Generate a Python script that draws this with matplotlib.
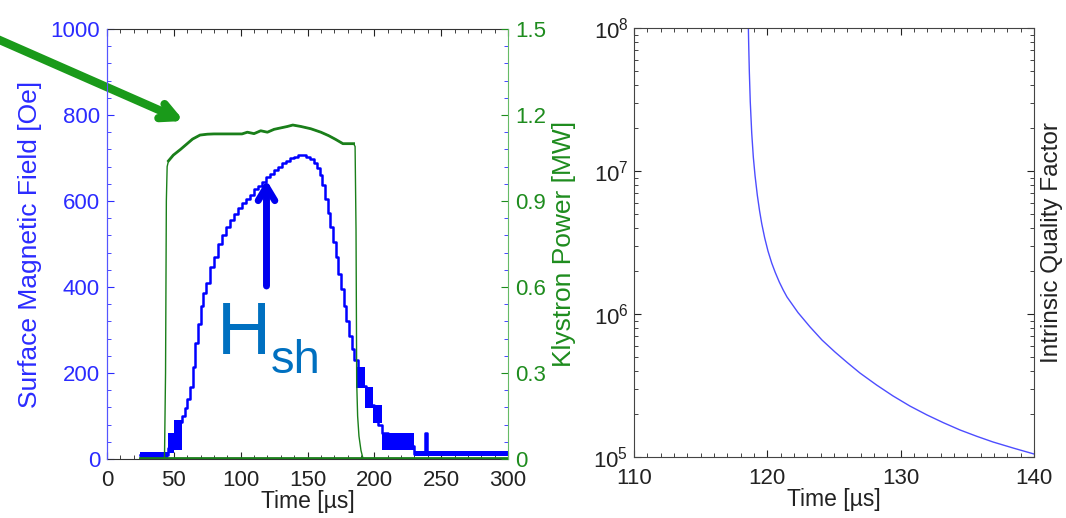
import matplotlib
matplotlib.use("Agg")
import matplotlib.pyplot as plt
from matplotlib.ticker import MultipleLocator, LogLocator, NullFormatter

plt.rcParams['font.family'] = ['Liberation Sans', 'DejaVu Sans']
plt.rcParams['mathtext.fontset'] = 'custom'
plt.rcParams['mathtext.rm'] = 'Liberation Sans'
plt.rcParams['mathtext.it'] = 'Liberation Sans:italic'

# ---------------- data ----------------
# Surface magnetic field (staircase trace), time in us, field in Oe
h_time = [25, 46, 48, 50, 52, 54, 56, 58, 60, 62, 64, 66, 68, 70, 72, 74, 77, 80,
          83, 86, 89, 92, 95, 98, 101, 104, 107, 110, 113, 116, 119, 122, 125, 128,
          131, 134, 137, 140, 143, 146, 149, 152, 155, 157, 159, 161, 163, 165,
          167, 169, 171, 173, 175, 177, 179, 181, 183, 185, 188, 191, 194, 197,
          200, 203, 206, 210, 215, 220, 225, 230, 238, 239.5, 300]
h_field = [10, 25, 45, 37, 60, 85, 100, 118, 140, 167, 215, 270, 315, 355, 385, 410, 447, 470,
           500, 520, 540, 555, 570, 583, 595, 605, 615, 628, 636, 645, 656, 662, 672, 680,
           688, 694, 700, 703, 707, 706, 703, 697, 688, 676, 660, 638, 605, 572,
           540, 505, 470, 430, 395, 355, 320, 285, 255, 230, 200, 170, 150, 125,
           100, 80, 60, 45, 35, 40, 30, 12, 60, 12, 12]
# noisy parts of the field trace: (start, end, low, high)
h_bands = [(25, 46, 3, 17), (46, 50, 15, 60), (50, 56, 20, 90),
           (186, 193, 165, 215), (193, 199, 118, 168), (199, 206, 84, 125),
           (206, 230, 20, 60), (230, 300, 7, 18)]

# Klystron power, MW
p_time = [25, 43, 43.8, 44.4, 45, 46, 49.6, 55, 60, 64, 69.6, 75, 80, 90, 101, 105,
          110, 115, 120, 125, 130, 135, 139, 145, 152.5, 160, 165.8, 171, 176.5,
          184.5, 185.6, 186.3, 186.8, 187.5, 188.5, 190, 191.6, 300]
p_power = [0.0, 0.0, 0.3, 0.9, 1.02, 1.04, 1.06, 1.08, 1.10, 1.116, 1.13, 1.133, 1.134,
           1.134, 1.134, 1.14, 1.135, 1.145, 1.14, 1.15, 1.155, 1.16, 1.165, 1.16, 1.152,
           1.14, 1.128, 1.115, 1.10, 1.10, 1.09, 0.8, 0.27, 0.15, 0.08, 0.03, 0.0, 0.0]

# Intrinsic quality factor (time in us, log10 of Q)
q_time = [118.57, 118.60, 118.65, 118.72, 118.83, 118.95, 119.08, 119.25, 119.42,
          119.58, 119.80, 120.05, 120.33, 120.60, 120.90, 121.20, 121.475, 122.30,
          123.20, 124.10, 125.075, 126.00, 126.95, 128.20, 129.425, 130.70, 131.975,
          133.20, 134.45, 135.70, 136.925, 138.50, 140.00]
q_log10 = [8.04, 7.894, 7.694, 7.484, 7.264, 7.096, 6.966, 6.83, 6.72,
           6.632, 6.533, 6.44, 6.356, 6.289, 6.223, 6.166, 6.119, 6.01,
           5.91, 5.818, 5.734, 5.66, 5.587, 5.503, 5.427, 5.356, 5.294,
           5.24, 5.189, 5.145, 5.105, 5.061, 5.021]
q_value = [10 ** v for v in q_log10]

left_xticks = [0, 50, 100, 150, 200, 250, 300]
left_yticks = [0, 200, 400, 600, 800, 1000]
right_yticks = [0, 0.3, 0.6, 0.9, 1.2, 1.5]
right_yticklabels = ['0', '0.3', '0.6', '0.9', '1.2', '1.5']
q_xticks = [110, 120, 130, 140]

BLUE = '#0000ff'
LBLUE = '#2b2bff'
GREEN = '#1a7f1a'
LGREEN = '#1e8c1e'
HSH = '#0070c0'
TICK_FS = 16
XLAB_FS = 16.5
YLAB_FS = 19

fig = plt.figure(figsize=(10.66, 5.18), dpi=100)

# ---------------- left panel ----------------
ax1 = fig.add_axes([107/1066, 59/518, 401/1066, 430/518])
ax2 = ax1.twinx()

for (t0, t1, lo, hi) in h_bands:
    ax1.fill_between([t0, t1], [lo, lo], [hi, hi], color=BLUE, lw=0, zorder=2)
ax1.plot(h_time, h_field, drawstyle='steps-post', color=BLUE, lw=1.8, zorder=3)

ax2.plot(p_time, p_power, color=GREEN, lw=1.0)
ax2.plot(p_time[5:30], p_power[5:30], color=GREEN, lw=2.0)
ax2.plot([25, 300], [0.004, 0.004], color=GREEN, lw=2.0)

ax1.set_xlim(0, 300)
ax1.set_ylim(0, 1000)
ax2.set_ylim(0, 1.5)
ax1.set_xticks(left_xticks)
ax1.set_yticks(left_yticks)
ax1.xaxis.set_minor_locator(MultipleLocator(10))
ax1.yaxis.set_minor_locator(MultipleLocator(40))
ax2.set_yticks(right_yticks)
ax2.set_yticklabels(right_yticklabels)
ax2.yaxis.set_minor_locator(MultipleLocator(0.06))

ax1.tick_params(axis='x', which='both', direction='in', top=True, bottom=True,
                labelsize=TICK_FS, pad=8, colors='#222222')
ax1.tick_params(axis='x', which='major', length=5)
ax1.tick_params(axis='x', which='minor', length=3)
ax1.tick_params(axis='y', which='both', direction='in', left=True, right=False,
                labelsize=TICK_FS, colors=LBLUE, pad=5)
ax1.tick_params(axis='y', which='major', length=5)
ax1.tick_params(axis='y', which='minor', length=3)
ax2.tick_params(axis='y', which='both', direction='in', labelsize=TICK_FS, pad=5)
ax2.tick_params(axis='y', which='major', length=5, colors=LGREEN)
ax2.tick_params(axis='y', which='minor', length=3, color=LBLUE)

for s in ['top', 'bottom']:
    ax1.spines[s].set_color('#333333')
    ax2.spines[s].set_visible(False)
ax1.spines['left'].set_color('#5555ff')
ax2.spines['left'].set_color('#5555ff')
ax2.spines['right'].set_color('#66bb66')
ax1.spines['right'].set_visible(False)

ax1.set_xlabel('Time [µs]', fontsize=XLAB_FS, color='#222222', labelpad=-1)
ax1.set_ylabel('Surface Magnetic Field [Oe]', fontsize=YLAB_FS, color=LBLUE, labelpad=6)
ax2.set_ylabel('Klystron Power [MW]', fontsize=YLAB_FS, color=LGREEN, labelpad=4)

# annotations: arrows and H_sh label
ax1.annotate('', xy=(184, 518 - 121), xycoords='figure pixels',
             xytext=(-5, 518 - 38), textcoords='figure pixels',
             arrowprops=dict(arrowstyle='->,head_length=1.1,head_width=0.55',
                             color='#1a9a1a', lw=6, shrinkA=0, shrinkB=0),
             annotation_clip=False)
ax1.annotate('', xy=(266.5, 518 - 180), xycoords='figure pixels',
             xytext=(266.5, 518 - 286), textcoords='figure pixels',
             arrowprops=dict(arrowstyle='->,head_length=1.0,head_width=0.6',
                             color='#0000ee', lw=5, shrinkA=0, shrinkB=0),
             annotation_clip=False)
fig.text(217/1066, (518 - 354)/518, 'H', fontsize=54, color=HSH, ha='left', va='baseline')
fig.text(271/1066, (518 - 373)/518, 'sh', fontsize=34, color=HSH, ha='left', va='baseline')

# ---------------- right panel ----------------
ax3 = fig.add_axes([634/1066, 61/518, 400/1066, 429/518])
ax3.plot(q_time, q_value, color='#4d4dff', lw=1.0)
ax3.set_yscale('log')
ax3.set_xlim(110, 140)
ax3.set_ylim(1e5, 1e8)
ax3.set_xticks(q_xticks)
ax3.xaxis.set_minor_locator(MultipleLocator(1))
ax3.yaxis.set_minor_locator(LogLocator(base=10, subs=range(2, 10)))
ax3.yaxis.set_minor_formatter(NullFormatter())
ax3.tick_params(which='both', direction='in', top=True, right=True,
                labelsize=TICK_FS, colors='#222222')
ax3.tick_params(axis='x', which='both', pad=8)
ax3.tick_params(axis='y', which='both', pad=4)
ax3.tick_params(which='major', length=5)
ax3.tick_params(which='minor', length=3)
for s in ax3.spines.values():
    s.set_color('#444444')
ax3.set_xlabel('Time [µs]', fontsize=XLAB_FS, color='#222222', labelpad=-1)
ax3.yaxis.set_label_position('right')
ax3.set_ylabel('Intrinsic Quality Factor', fontsize=17.5, color='#222222', labelpad=5)

fig.savefig('out.png', dpi=100)
